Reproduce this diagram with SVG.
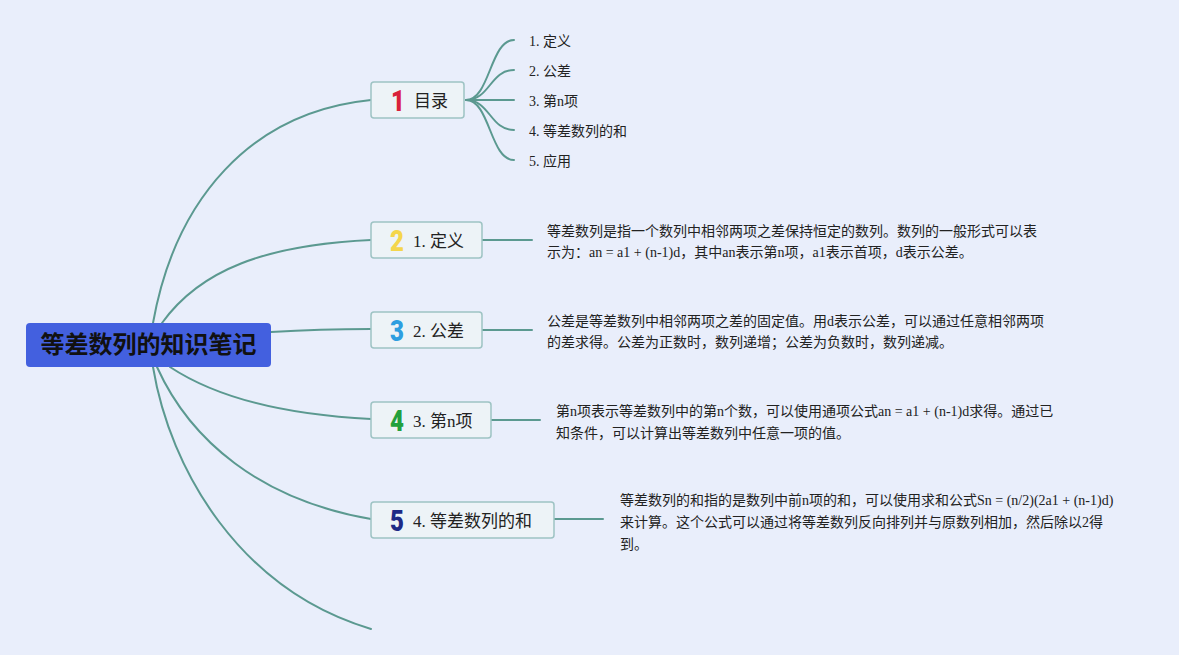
<svg xmlns="http://www.w3.org/2000/svg" width="1179" height="655" viewBox="0 0 1179 655">
<style>
.bg{fill:#e9eefb}
.conn path{fill:none;stroke:#5b9990;stroke-width:2;stroke-linecap:round}
.box{fill:#edf3f7;stroke:#9dc3c3;stroke-width:1.5}
.root{fill:#4360df}
.rt{font-family:"Noto Sans CJK SC",sans-serif;font-weight:bold;font-size:24px;fill:#111}
.lbl{font-family:"Liberation Serif","Noto Sans CJK SC",serif;font-size:17px;fill:#222}
.num{font-family:Roboto,"DejaVu Sans",sans-serif;font-weight:900;font-size:30px}
.sub{font-family:"Liberation Serif","Noto Sans CJK SC",serif;font-size:14px;fill:#222}
.desc{font-family:"Liberation Serif","Noto Sans CJK SC",serif;font-size:14px;fill:#222}
</style>
<rect class="bg" x="0" y="0" width="1179" height="655"/>
<g class="conn" id="connectors">
<path d="M153,323 C175,200 250,112 371,100"/>
<path d="M162,323 C200,270 265,245 371,240"/>
<path d="M271,332 Q320,329 371,329"/>
<path d="M170,367 C220,400 290,415 371,419"/>
<path d="M157,367 C190,440 260,500 371,519"/>
<path d="M153,367 C170,470 240,590 371,629"/>
<path d="M466,100 C490,100 490,40 514,40"/>
<path d="M466,100 C490,100 490,70 514,70"/>
<path d="M466,100 L514,100"/>
<path d="M466,100 C490,100 490,130 514,130"/>
<path d="M466,100 C490,100 490,160 514,160"/>
<path d="M482,240 L532,240"/>
<path d="M482,330 L532,330"/>
<path d="M491,420 L540,420"/>
<path d="M554,519 L603,519"/>
</g>
<g id="root">
<rect class="root" x="26" y="323" width="245" height="44" rx="4"/>
<text class="rt" x="148.5" y="353" text-anchor="middle">等差数列的知识笔记</text>
</g>
<g id="n1">
<rect class="box" x="371" y="82" width="93" height="36" rx="3"/>
<text class="num" transform="translate(398,111) scale(0.8,1)" text-anchor="middle" fill="#d9213a">1</text>
<text class="lbl" x="414" y="107">目录</text>
</g>
<g id="n1-children">
<text class="sub" x="529" y="46">1. 定义</text>
<text class="sub" x="529" y="76">2. 公差</text>
<text class="sub" x="529" y="106">3. 第n项</text>
<text class="sub" x="529" y="136">4. 等差数列的和</text>
<text class="sub" x="529" y="166">5. 应用</text>
</g>
<g id="n2">
<rect class="box" x="371" y="222" width="111" height="36" rx="3"/>
<text class="num" transform="translate(397,251) scale(0.8,1)" text-anchor="middle" fill="#f4d64c">2</text>
<text class="lbl" x="413" y="247">1. 定义</text>
</g>
<g id="n2-desc">
<text class="desc" x="547" y="236">等差数列是指一个数列中相邻两项之差保持恒定的数列。数列的一般形式可以表</text>
<text class="desc" x="547" y="257">示为：an = a1 + (n-1)d，其中an表示第n项，a1表示首项，d表示公差。</text>
</g>
<g id="n3">
<rect class="box" x="371" y="312" width="111" height="36" rx="3"/>
<text class="num" transform="translate(397,341) scale(0.8,1)" text-anchor="middle" fill="#2e9ee0">3</text>
<text class="lbl" x="413" y="337">2. 公差</text>
</g>
<g id="n3-desc">
<text class="desc" x="547" y="326">公差是等差数列中相邻两项之差的固定值。用d表示公差，可以通过任意相邻两项</text>
<text class="desc" x="547" y="347">的差求得。公差为正数时，数列递增；公差为负数时，数列递减。</text>
</g>
<g id="n4">
<rect class="box" x="371" y="402" width="120" height="36" rx="3"/>
<text class="num" transform="translate(397,431) scale(0.8,1)" text-anchor="middle" fill="#23a03c">4</text>
<text class="lbl" x="413" y="427">3. 第n项</text>
</g>
<g id="n4-desc">
<text class="desc" x="556" y="416">第n项表示等差数列中的第n个数，可以使用通项公式an = a1 + (n-1)d求得。通过已</text>
<text class="desc" x="556" y="438">知条件，可以计算出等差数列中任意一项的值。</text>
</g>
<g id="n5">
<rect class="box" x="371" y="502" width="183" height="36" rx="3"/>
<text class="num" transform="translate(397,531) scale(0.8,1)" text-anchor="middle" fill="#1e2a86">5</text>
<text class="lbl" x="413" y="527">4. 等差数列的和</text>
</g>
<g id="n5-desc">
<text class="desc" x="620" y="505">等差数列的和指的是数列中前n项的和，可以使用求和公式Sn = (n/2)(2a1 + (n-1)d)</text>
<text class="desc" x="620" y="527">来计算。这个公式可以通过将等差数列反向排列并与原数列相加，然后除以2得</text>
<text class="desc" x="620" y="549">到。</text>
</g>
</svg>
